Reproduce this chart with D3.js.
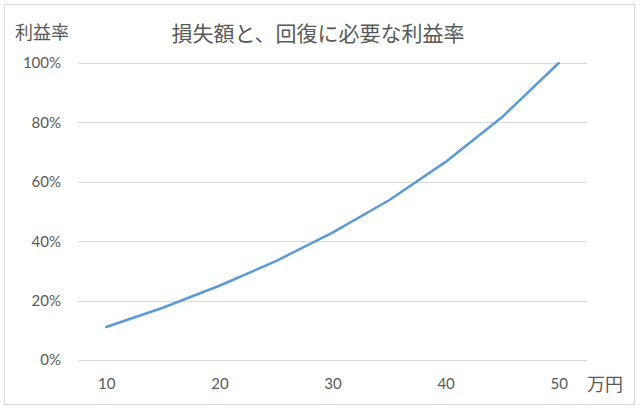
<!DOCTYPE html>
<html><head><meta charset="utf-8">
<script src="https://cdn.jsdelivr.net/npm/d3@7"></script>
<style>
html,body{margin:0;padding:0;background:#fff;}
svg{display:block;}
</style></head>
<body>
<svg id="chart" width="640" height="412"></svg>
<script>
const categories = [10, 15, 20, 25, 30, 35, 40, 45, 50];
const values = [0.111, 0.176, 0.25, 0.333, 0.429, 0.538, 0.667, 0.818, 1.0];
const xTickLabels = [10, 20, 30, 40, 50];
const yTicks = [0, 0.2, 0.4, 0.6, 0.8, 1.0];
const titleText = "損失額と、回復に必要な利益率";
const yAxisTitle = "利益率";
const xAxisTitle = "万円";

(function () {
const svg = d3.select("#chart");
const jp = "'Noto Sans CJK JP', sans-serif";
const num = "Lato, 'Noto Sans', sans-serif";
const textColor = "#595959";

svg.append("rect").attr("x", 4.5).attr("y", 4.5).attr("width", 630).attr("height", 400)
  .attr("fill", "#fff").attr("stroke", "#d9d9d9").attr("stroke-width", 1);

const pLeft = 78, pRight = 587, pTop = 63, pBottom = 360;
const x = d3.scalePoint().domain(categories).range([pLeft, pRight]).padding(0.5);
const y = d3.scaleLinear().domain([0, 1]).range([pBottom, pTop]);

const grid = svg.append("g");
grid.selectAll("line").data(yTicks).join("line")
  .attr("x1", pLeft).attr("x2", pRight)
  .attr("y1", d => Math.round(y(d)) + 0.5).attr("y2", d => Math.round(y(d)) + 0.5)
  .attr("stroke", "#d9d9d9").attr("stroke-width", 1);

const yAxis = d3.axisLeft(y).tickValues(yTicks).tickFormat(d3.format(".0%")).tickSize(0).tickPadding(0);
const gy = svg.append("g").attr("transform", `translate(${61},0)`).call(yAxis);
gy.select(".domain").remove();
gy.selectAll("text").attr("font-family", num).attr("font-size", 15).attr("fill", textColor);

const xAxis = d3.axisBottom(x).tickValues(xTickLabels).tickSize(0).tickPadding(0);
const gx = svg.append("g").attr("transform", `translate(0,${378})`).call(xAxis);
gx.select(".domain").remove();
gx.selectAll("text").attr("font-family", num).attr("font-size", 15).attr("fill", textColor);

const line = d3.line().x((d, i) => x(categories[i])).y(d => y(d));
svg.append("path").datum(values).attr("d", line)
  .attr("fill", "none").attr("stroke", "#5B9BD5").attr("stroke-width", 2.5)
  .attr("stroke-linecap", "round").attr("stroke-linejoin", "round");

svg.append("text").attr("x", 318).attr("y", 41).attr("text-anchor", "middle")
  .attr("font-family", jp).attr("font-size", 21).attr("fill", textColor).text(titleText);
svg.append("text").attr("x", 15).attr("y", 39)
  .attr("font-family", jp).attr("font-size", 18).attr("fill", textColor).text(yAxisTitle);
svg.append("text").attr("x", 587).attr("y", 391)
  .attr("font-family", jp).attr("font-size", 18).attr("fill", textColor).text(xAxisTitle);
})();
</script>
</body></html>
